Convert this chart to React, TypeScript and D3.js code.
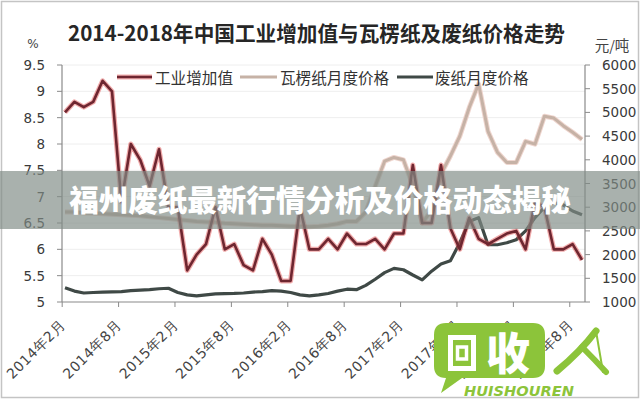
import React from "react";
import * as d3 from "d3";

// month index 0 = 2014年2月 ... 55 = 2018年9月
const ivaValues = [
  8.6, 8.8, 8.7, 8.8, 9.2, 9.0, 6.9, 8.0, 7.7, 7.2, 7.9,
  6.8, 6.8, 5.6, 5.9, 6.1, 6.8, 6.0, 6.1, 5.7, 5.6, 6.2, 5.9,
  5.4, 5.4, 6.8, 6.0, 6.0, 6.2, 6.0, 6.3, 6.1, 6.1, 6.2, 6.0,
  6.3, 6.3, 7.6, 6.5, 6.5, 7.6, 6.4, 6.0, 6.6, 6.2, 6.1, 6.2,
  6.3, 6.35, 6.0, 6.9, 6.8, 6.0, 6.0, 6.1, 5.8,
];
const corrugatedValues = [
  2900, 2900, 2880, 2870, 2860, 2850, 2840, 2830, 2820, 2800, 2780,
  2760, 2740, 2720, 2700, 2690, 2680, 2660, 2650, 2640, 2630, 2620,
  2620, 2610, 2600, 2600, 2590, 2600, 2620, 2650, 2700, 2700, 2900,
  3440, 3970, 4050, 4000, 3460, 2670, 2930, 3700, 4080, 4500, 5100,
  5600, 4600, 4160, 3945, 3945, 4390, 4330, 4920, 4880, 4720, 4580, 4430,
];
const wasteValues = [
  1300, 1230, 1190, 1200, 1210, 1215, 1220, 1240, 1250, 1260, 1280,
  1290, 1200, 1150, 1130, 1150, 1170, 1175, 1180, 1190, 1210, 1220,
  1240, 1230, 1200, 1150, 1130, 1150, 1180, 1230, 1270, 1260, 1350,
  1480, 1620, 1710, 1680, 1570, 1466, 1650, 1800, 1870, 2250, 2700,
  2780, 2208, 2208, 2250, 2314, 2500, 2780, 3000, 3100, 3050, 2920, 2843,
];
const tickLabels = [
  "2014年2月", "2014年8月", "2015年2月", "2015年8月", "2016年2月",
  "2016年8月", "2017年2月", "2017年8月", "2018年2月", "2018年8月",
];
const leftTicks = [5, 5.5, 6, 6.5, 7, 7.5, 8, 8.5, 9, 9.5];
const rightTicks = [1000, 1500, 2000, 2500, 3000, 3500, 4000, 4500, 5000, 5500, 6000];
const seriesNames = ["工业增加值", "瓦楞纸月度价格", "废纸月度价格"];
const title = "2014-2018年中国工业增加值与瓦楞纸及废纸价格走势";
const banner = "福州废纸最新行情分析及价格动态揭秘";

const CJK = "'Noto Sans CJK SC', 'Noto Sans', sans-serif";
const NUM = "'DejaVu Sans', sans-serif";

export default function App() {
  const x = d3.scaleLinear().domain([0, 55]).range([65, 582]);
  const yL = d3.scaleLinear().domain([5, 9.5]).range([302, 65]);
  const yR = d3.scaleLinear().domain([1000, 6000]).range([302, 65]);
  const plotL = 62, plotR = 585, plotB = 302;

  const lineL = d3.line<number>().x((_, i) => x(i)).y((d) => yL(d));
  const lineR = d3.line<number>().x((_, i) => x(i)).y((d) => yR(d));

  const tickMonths = tickLabels.map((_, k) => k * 6 - 0.3);

  const colRed = "#6e2630";
  const colBeige = "#c6b2a6";
  const colDark = "#3f4946";
  const green = "#8cc43a";

  return (
    <svg width={640} height={400} style={{ position: "absolute", left: 0, top: 0, background: "#fff" }}>
      <rect x={0} y={0} width={640} height={400} fill="#fff" />
      <rect x={1.5} y={1.5} width={637} height={396} fill="none" stroke="#c4c4c4" strokeWidth={1.5} />

      {/* title */}
      <text
        x={68}
        y={41}
        fontFamily={CJK}
        fontWeight={700}
        fontSize={21}
        textLength={497}
        lengthAdjust="spacingAndGlyphs"
        fill="#262626"
      >
        {title}
      </text>
      <text x={33} y={48} textAnchor="middle" fontFamily={NUM} fontSize={12} fill="#444">%</text>
      <text x={612} y={51} textAnchor="middle" fontFamily={CJK} fontSize={14.5} fill="#444">元/吨</text>

      {/* gridlines */}
      {leftTicks.slice(1).map((t) => (
        <line key={"g" + t} x1={plotL} x2={plotR} y1={yL(t)} y2={yL(t)} stroke="#eeeeee" strokeWidth={1} />
      ))}

      {/* axes */}
      <line x1={plotL} x2={plotL} y1={yL(9.5)} y2={plotB} stroke="#8a8a8a" strokeWidth={1.2} />
      <line x1={plotR} x2={plotR} y1={yR(6000)} y2={plotB} stroke="#8a8a8a" strokeWidth={1.2} />
      <line x1={plotL} x2={plotR} y1={plotB} y2={plotB} stroke="#8a8a8a" strokeWidth={1.2} />
      {leftTicks.map((t) => (
        <g key={"l" + t}>
          <line x1={plotL - 5} x2={plotL} y1={yL(t)} y2={yL(t)} stroke="#8a8a8a" />
          <text x={45} y={yL(t) + 5} textAnchor="end" fontFamily={NUM} fontSize={13.5} fill="#3a3a3a">
            {t}
          </text>
        </g>
      ))}
      {rightTicks.map((t) => (
        <g key={"r" + t}>
          <line x1={plotR} x2={plotR + 5} y1={yR(t)} y2={yR(t)} stroke="#8a8a8a" />
          <text x={602} y={yR(t) + 5} textAnchor="start" fontFamily={NUM} fontSize={13.5} fill="#3a3a3a">
            {t}
          </text>
        </g>
      ))}
      {tickMonths.map((m, k) => (
        <g key={"x" + k}>
          <line x1={x(m)} x2={x(m)} y1={plotB} y2={plotB + 5} stroke="#8a8a8a" />
          <text
            transform={`translate(${x(m) + 4},${plotB + 24}) rotate(-45)`}
            textAnchor="end"
            fontFamily={NUM}
            fontSize={14}
            letterSpacing={0.5}
            fill="#444"
          >
            {tickLabels[k]}
          </text>
        </g>
      ))}

      {/* series */}
      <path d={lineR(corrugatedValues) || ""} fill="none" stroke="#efd6cf" strokeWidth={5} strokeLinejoin="round" />
      <path d={lineR(corrugatedValues) || ""} fill="none" stroke={colBeige} strokeWidth={3} strokeLinejoin="round" />
      <path d={lineR(wasteValues) || ""} fill="none" stroke={colDark} strokeWidth={3.2} strokeLinejoin="round" />
      <path d={lineL(ivaValues) || ""} fill="none" stroke="#e04848" strokeOpacity={0.45} strokeWidth={5} strokeLinejoin="round" />
      <path d={lineL(ivaValues) || ""} fill="none" stroke={colRed} strokeWidth={2.6} strokeLinejoin="round" />

      {/* legend */}
      <line x1={117} x2={152} y1={77} y2={77} stroke="#e04848" strokeOpacity={0.45} strokeWidth={5} />
      <line x1={117} x2={152} y1={77} y2={77} stroke={colRed} strokeWidth={2.6} />
      <text x={155} y={84} fontFamily={CJK} fontSize={15.6} fill="#333">{seriesNames[0]}</text>
      <line x1={240} x2={277} y1={77} y2={77} stroke={colBeige} strokeWidth={3} />
      <text x={280} y={84} fontFamily={CJK} fontSize={15.6} fill="#333">{seriesNames[1]}</text>
      <line x1={397} x2={433} y1={77} y2={77} stroke={colDark} strokeWidth={3.2} />
      <text x={435} y={84} fontFamily={CJK} fontSize={15.6} fill="#333">{seriesNames[2]}</text>

      {/* banner */}
      <rect x={0} y={171} width={640} height={58} fill="rgb(128,140,134)" fillOpacity={0.68} />
      <text x={320} y={211} textAnchor="middle" fontFamily={CJK} fontWeight={900} fontSize={29.5} fill="#fff">
        {banner}
      </text>

      {/* logo */}
      <path
        d="M446,323 H533 Q545,323 545,335 V366 Q545,378 533,378 H462 L441,393 L446,378 Q434,378 434,366 V335 Q434,323 446,323 Z"
        fill={green}
      />
      <rect x={450.5} y={337.5} width={23} height={31} fill="none" stroke="#fff" strokeWidth={5} />
      <rect x={457.5} y={347} width={9} height={12} fill="none" stroke="#fff" strokeWidth={3.5} />
      <text x={508} y={370} textAnchor="middle" fontFamily={CJK} fontWeight={900} fontSize={44} fill="#fff">收</text>
      <path d="M596,331 Q580,352 557,371" fill="none" stroke={green} strokeWidth={7} strokeLinecap="round" />
      <path d="M582,347 Q595,360 606,372" fill="none" stroke={green} strokeWidth={6} strokeLinecap="round" />
      <path d="M596,331 L603,372" fill="none" stroke={green} strokeWidth={2} strokeLinecap="round" />
      <text
        x={464}
        y={396}
        fontFamily={"'DejaVu Sans', sans-serif"}
        fontWeight={700}
        fontStyle="italic"
        fontSize={14.5}
        textLength={110}
        lengthAdjust="spacingAndGlyphs"
        fill={green}
      >
        HUISHOUREN
      </text>
    </svg>
  );
}
